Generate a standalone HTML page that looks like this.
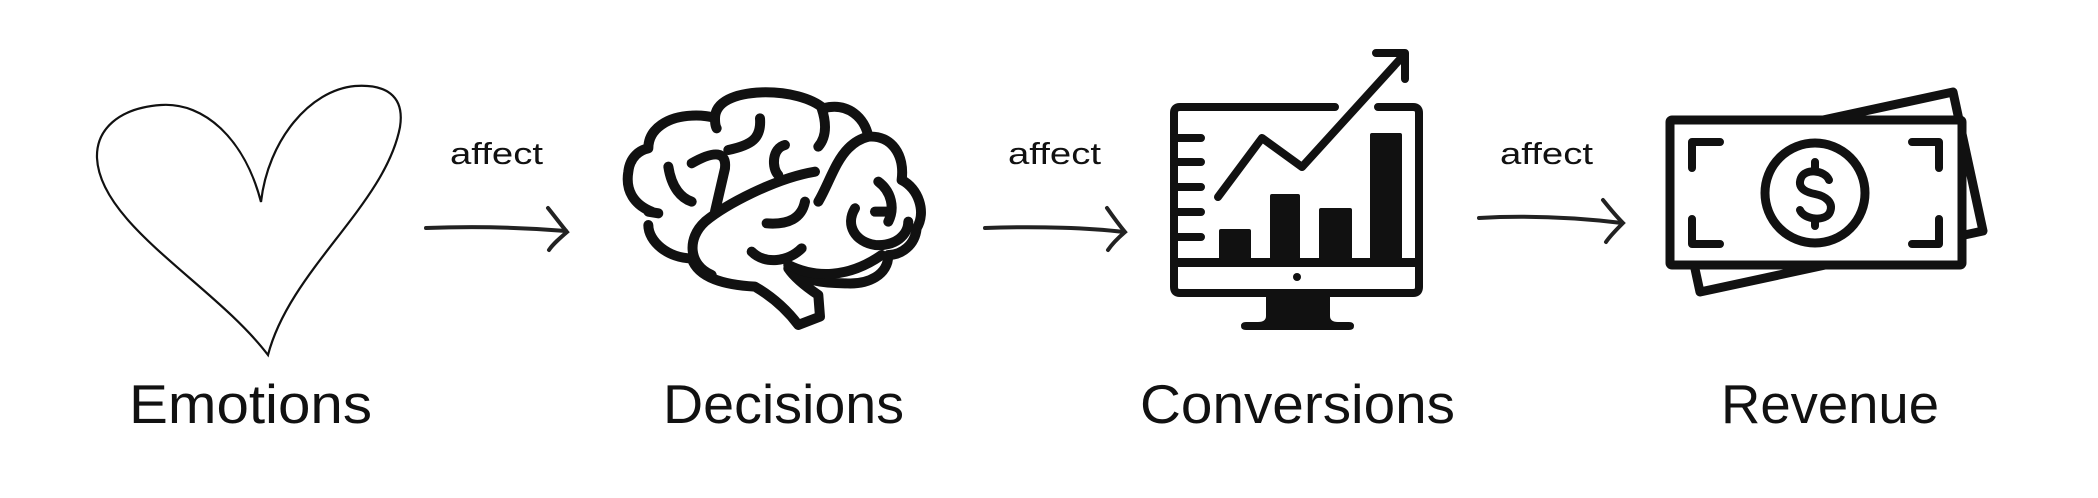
<!DOCTYPE html>
<html><head><meta charset="utf-8"><style>
html,body{margin:0;padding:0;background:#fff;}
svg{display:block;}
text{font-family:"Liberation Sans",sans-serif;fill:#111;}
</style></head><body>
<svg width="2098" height="498" viewBox="0 0 2098 498" xmlns="http://www.w3.org/2000/svg">
<rect width="2098" height="498" fill="#fff"/>
<!-- Heart -->
<path d="M261 202 C245 140 205 102 161 105 C118 108 96 130 97 158 C100 225 215 285 268 355 C290 270 385 205 400 127 C405 95 385 84 355 86 C310 90 268 140 261 202 Z" fill="none" stroke="#111" stroke-width="2.2" stroke-linejoin="miter"/>
<!-- Brain -->
<g transform="translate(615,85) scale(0.3333)" fill="none" stroke="#111" stroke-width="30" stroke-linecap="round" stroke-linejoin="round">
<path d="M110 380 C60 360 30 320 40 260 C45 215 75 195 100 190 C100 130 160 95 230 92 C260 90 290 95 300 100 C300 50 360 25 440 22 C520 20 590 40 625 70 C700 50 750 100 760 155 C830 150 870 210 860 285 C910 310 935 380 905 430 C900 480 860 510 820 510 C820 570 760 600 690 595 C620 595 560 585 520 550 C540 580 580 610 610 630 L615 695 L550 720 C520 680 480 640 420 605 C330 600 250 580 230 520 C160 520 100 470 100 420"/>
<path d="M600 260 C480 280 330 360 270 410 C215 460 220 540 290 570"/>
<path d="M410 500 C450 540 520 530 560 490"/>
<path d="M455 415 C520 420 560 400 570 350"/>
<path d="M300 380 L330 250 C335 200 300 195 230 235"/>
<path d="M300 100 C300 115 302 125 305 130"/>
<path d="M435 100 C440 160 410 180 340 195"/>
<path d="M510 180 C470 190 470 250 490 270"/>
<path d="M610 185 C640 150 630 100 620 70"/>
<path d="M160 245 C170 310 200 340 230 350"/>
<path d="M100 380 L130 385"/>
<path d="M720 370 C690 420 720 470 780 480 C840 485 880 450 880 410"/>
<path d="M780 380 L820 380"/>
<path d="M790 290 C830 320 840 370 820 410"/>
<path d="M520 540 C600 580 700 580 800 510"/>
<path d="M610 350 C640 300 660 230 700 190 C720 170 740 160 760 155"/>
</g>
<!-- Monitor -->
<g fill="none" stroke="#111" stroke-width="8" stroke-linecap="round" stroke-linejoin="round">
<path d="M1335 107 L1180 107 Q1174 107 1174 113 L1174 287 Q1174 293 1180 293 L1413 293 Q1419 293 1419 287 L1419 113 Q1419 107 1413 107 L1378 107"/>
<path d="M1174 138 H1201 M1174 162 H1201 M1174 187 H1201 M1174 212 H1201 M1174 237 H1201"/>
<path d="M1218 197 L1262 138 L1302 167 L1403 56"/>
<path d="M1376 53 L1405 53 L1405 79"/>
</g>
<rect x="1174" y="258" width="245" height="9" fill="#111"/>
<rect x="1219" y="229" width="32" height="31" rx="2" fill="#111"/>
<rect x="1270" y="194" width="30" height="66" rx="2" fill="#111"/>
<rect x="1319" y="208" width="33" height="52" rx="2" fill="#111"/>
<rect x="1370" y="133" width="32" height="127" rx="2" fill="#111"/>
<circle cx="1297" cy="277" r="4" fill="#111"/>
<path d="M1266 296 L1330 296 L1330 316 Q1330 322 1338 322 L1349 322 Q1354 322 1354 326 Q1354 330 1349 330 L1246 330 Q1241 330 1241 326 Q1241 322 1246 322 L1258 322 Q1266 322 1266 316 Z" fill="#111"/>
<!-- Money -->
<g fill="#fff" stroke="#111" stroke-width="9" stroke-linejoin="round" stroke-linecap="round">
<polygon points="1953,92 1983,231 1700,292 1670,153"/>
<rect x="1670" y="120" width="292" height="145" rx="2"/>
<circle cx="1815" cy="193" r="50"/>
</g>
<g fill="none" stroke="#111" stroke-width="8" stroke-linecap="round" stroke-linejoin="round">
<path d="M1720 142 H1692 V168 M1692 219 V244 H1720 M1912 142 H1939 V168 M1939 219 V244 H1912"/>
<path d="M1829 180 C1825 170 1805 168 1801 178 C1796 190 1810 193 1815 194 C1825 196 1834 202 1830 212 C1826 222 1804 220 1800 210"/>
<path d="M1815 162 V169 M1815 219 V226"/>
</g>
<!-- Arrows -->
<g fill="none" stroke="#222" stroke-width="4" stroke-linecap="round">
<path d="M426 228 C480 226 530 228 566 231"/>
<path d="M548 208 C556 218 562 226 567 232 C560 238 553 244 549 250"/>
<path d="M985 228 C1040 226 1090 228 1124 232"/>
<path d="M1107 208 C1114 218 1120 226 1125 232 C1118 238 1112 244 1108 250"/>
<path d="M1479 218 C1530 215 1580 218 1622 223"/>
<path d="M1603 200 C1611 210 1617 217 1623 223 C1616 230 1610 236 1606 242"/>
</g>
<!-- Labels -->
<text x="450" y="164" font-size="31" textLength="93" lengthAdjust="spacingAndGlyphs">affect</text>
<text x="1008" y="164" font-size="31" textLength="93" lengthAdjust="spacingAndGlyphs">affect</text>
<text x="1500" y="164" font-size="31" textLength="93" lengthAdjust="spacingAndGlyphs">affect</text>
<text x="129" y="423" font-size="55" textLength="243" lengthAdjust="spacingAndGlyphs">Emotions</text>
<text x="663" y="423" font-size="55" textLength="241" lengthAdjust="spacingAndGlyphs">Decisions</text>
<text x="1140" y="423" font-size="55" textLength="315" lengthAdjust="spacingAndGlyphs">Conversions</text>
<text x="1721" y="423" font-size="55" textLength="218" lengthAdjust="spacingAndGlyphs">Revenue</text>
</svg>
</body></html>
